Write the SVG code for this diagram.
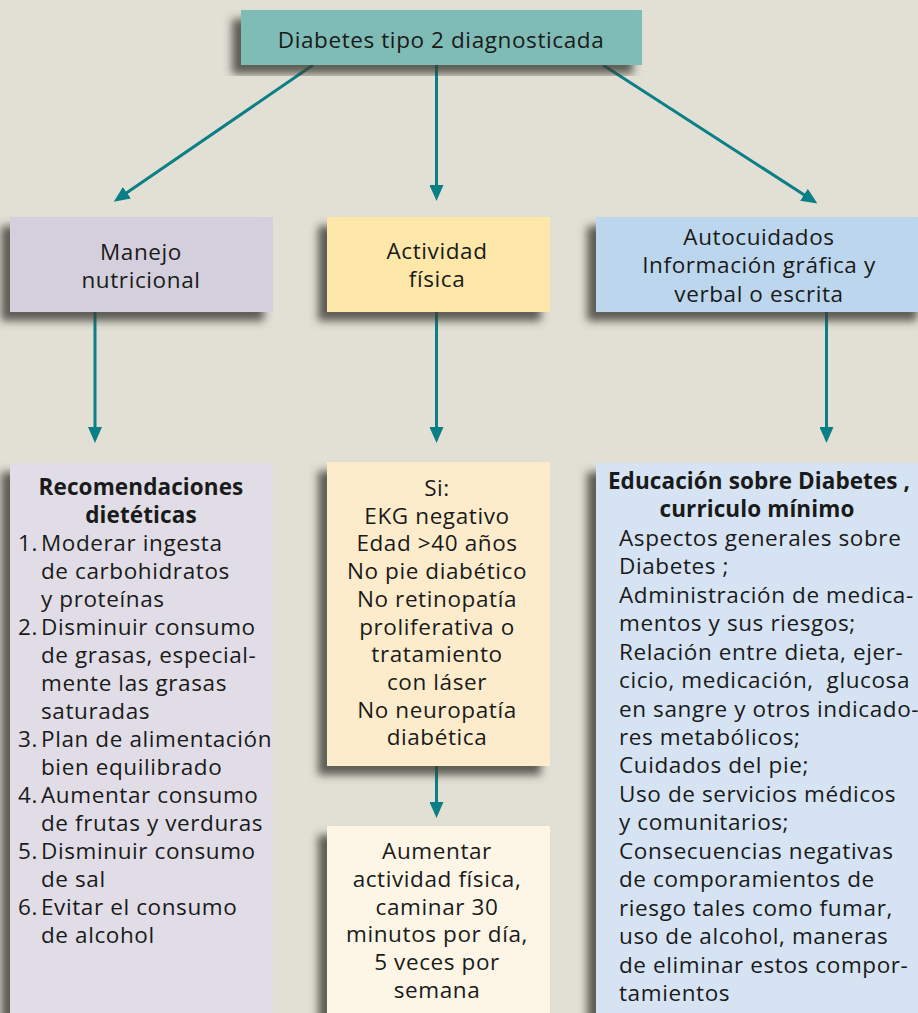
<svg xmlns="http://www.w3.org/2000/svg" width="918" height="1013" viewBox="0 0 918 1013">
<defs>
<filter id="sh" x="-20%" y="-20%" width="140%" height="140%">
<feDropShadow dx="-9" dy="9" stdDeviation="4" flood-color="#3a3a34" flood-opacity="0.8"/>
</filter>
<marker id="ah" markerUnits="userSpaceOnUse" markerWidth="16" markerHeight="14" refX="6" refY="7" orient="auto">
<path d="M0,0 L16,7 L0,14 z" fill="#0b7f86"/>
</marker>
<style>
.t{font-family:"Open Sans","Noto Sans",sans-serif;font-size:22.5px;letter-spacing:0.6px;fill:#1a1a1a}
.c{text-anchor:middle}
.b{font-weight:bold;letter-spacing:0.1px}
.ln{stroke:#0b7f86;stroke-width:3;fill:none;marker-end:url(#ah)}
.box{filter:url(#sh)}
</style>
</defs>
<rect width="918" height="1013" fill="#e2e0d5"/>
<g id="connectors">
<line class="ln" x1="313" y1="65" x2="122" y2="196"/>
<line class="ln" x1="436.5" y1="65" x2="436.5" y2="191"/>
<line class="ln" x1="603" y1="65" x2="809" y2="198"/>
<line class="ln" x1="95" y1="311" x2="95" y2="433"/>
<line class="ln" x1="436.5" y1="311" x2="436.5" y2="433"/>
<line class="ln" x1="826.5" y1="311" x2="826.5" y2="433"/>
<line class="ln" x1="436.5" y1="765" x2="436.5" y2="808"/>
</g>
<g id="n-top">
<rect class="box" x="241" y="10" width="401" height="55" fill="#7fbcb5"/>
<text class="t c" x="441" y="48">Diabetes tipo 2 diagnosticada</text>
</g>
<g id="n-manejo">
<rect class="box" x="10" y="217" width="263" height="95" fill="#d4cfdc"/>
<text class="t c" x="141" y="260">Manejo</text>
<text class="t c" x="141" y="288">nutricional</text>
</g>
<g id="n-actividad">
<rect class="box" x="327" y="217" width="223" height="95" fill="#fde7a9"/>
<text class="t c" x="437" y="259">Actividad</text>
<text class="t c" x="437" y="287">física</text>
</g>
<g id="n-auto">
<rect class="box" x="596" y="217" width="330" height="95" fill="#bcd6ee"/>
<text class="t c" x="759" y="245">Autocuidados</text>
<text class="t c" x="759" y="273">Información gráfica y</text>
<text class="t c" x="759" y="302">verbal o escrita</text>
</g>
<g id="n-recom">
<rect class="box" x="10" y="463" width="263" height="560" fill="#e0dde6"/>
<text class="t c b" x="141" y="495">Recomendaciones</text>
<text class="t c b" x="141" y="523">dietéticas</text>
<text class="t" x="18" y="551">1.</text><text class="t" x="41" y="551">Moderar ingesta</text>
<text class="t" x="41" y="579">de carbohidratos</text>
<text class="t" x="41" y="607">y proteínas</text>
<text class="t" x="18" y="635">2.</text><text class="t" x="41" y="635">Disminuir consumo</text>
<text class="t" x="41" y="663">de grasas, especial-</text>
<text class="t" x="41" y="691">mente las grasas</text>
<text class="t" x="41" y="719">saturadas</text>
<text class="t" x="18" y="747">3.</text><text class="t" x="41" y="747">Plan de alimentación</text>
<text class="t" x="41" y="775">bien equilibrado</text>
<text class="t" x="18" y="803">4.</text><text class="t" x="41" y="803">Aumentar consumo</text>
<text class="t" x="41" y="831">de frutas y verduras</text>
<text class="t" x="18" y="859">5.</text><text class="t" x="41" y="859">Disminuir consumo</text>
<text class="t" x="41" y="887">de sal</text>
<text class="t" x="18" y="915">6.</text><text class="t" x="41" y="915">Evitar el consumo</text>
<text class="t" x="41" y="943">de alcohol</text>
</g>
<g id="n-si">
<rect class="box" x="327" y="462" width="223" height="304" fill="#fdeccb"/>
<text class="t c" x="437" y="496">Si:</text>
<text class="t c" x="437" y="523.7">EKG negativo</text>
<text class="t c" x="437" y="551.4">Edad &gt;40 años</text>
<text class="t c" x="437" y="579.1">No pie diabético</text>
<text class="t c" x="437" y="606.8">No retinopatía</text>
<text class="t c" x="437" y="634.5">proliferativa o</text>
<text class="t c" x="437" y="662.2">tratamiento</text>
<text class="t c" x="437" y="689.9">con láser</text>
<text class="t c" x="437" y="717.6">No neuropatía</text>
<text class="t c" x="437" y="745.3">diabética</text>
</g>
<g id="n-aumentar">
<rect class="box" x="327" y="826" width="223" height="200" fill="#fdf5e5"/>
<text class="t c" x="437" y="859">Aumentar</text>
<text class="t c" x="437" y="886.8">actividad física,</text>
<text class="t c" x="437" y="914.6">caminar 30</text>
<text class="t c" x="437" y="942.4">minutos por día,</text>
<text class="t c" x="437" y="970.2">5 veces por</text>
<text class="t c" x="437" y="998">semana</text>
</g>
<g id="n-educ">
<rect class="box" x="596" y="463" width="330" height="560" fill="#d5e3f3"/>
<text class="t c b" x="759" y="489">Educación sobre Diabetes ,</text>
<text class="t c b" x="757" y="517.4">curriculo mínimo</text>
<text class="t" x="619" y="545.9">Aspectos generales sobre</text>
<text class="t" x="619" y="574.3">Diabetes ;</text>
<text class="t" x="619" y="602.8">Administración de medica-</text>
<text class="t" x="619" y="631.2">mentos y sus riesgos;</text>
<text class="t" x="619" y="659.6">Relación entre dieta, ejer-</text>
<text class="t" x="619" y="688.1" style="white-space:pre">cicio, medicación,  glucosa</text>
<text class="t" x="619" y="716.5">en sangre y otros indicado-</text>
<text class="t" x="619" y="745">res metabólicos;</text>
<text class="t" x="619" y="773.4">Cuidados del pie;</text>
<text class="t" x="619" y="801.8">Uso de servicios médicos</text>
<text class="t" x="619" y="830.3">y comunitarios;</text>
<text class="t" x="619" y="858.7">Consecuencias negativas</text>
<text class="t" x="619" y="887.2">de comporamientos de</text>
<text class="t" x="619" y="915.6">riesgo tales como fumar,</text>
<text class="t" x="619" y="944">uso de alcohol, maneras</text>
<text class="t" x="619" y="972.5">de eliminar estos compor-</text>
<text class="t" x="619" y="1000.9">tamientos</text>
</g>
</svg>
